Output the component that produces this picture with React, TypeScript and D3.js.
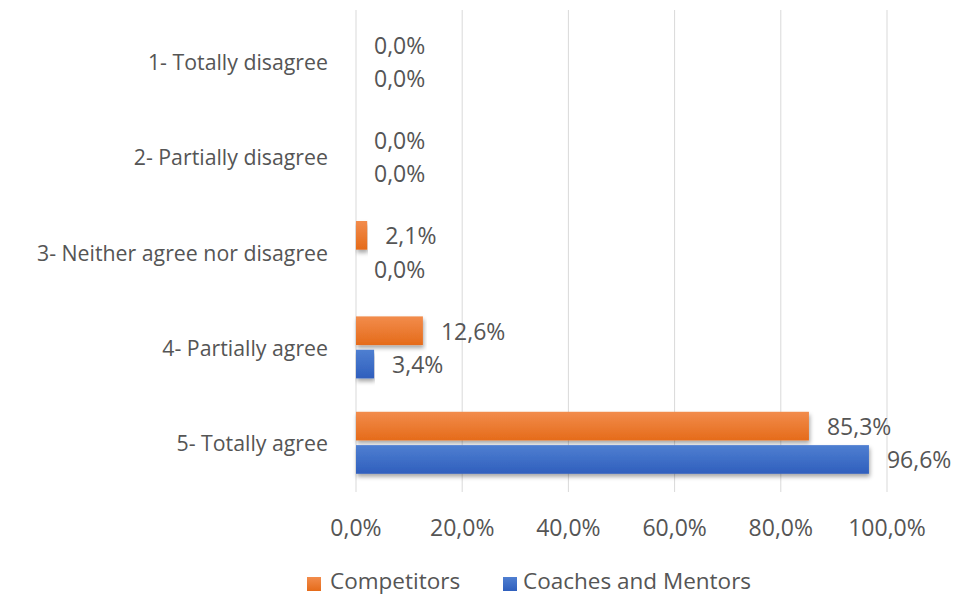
import React from "react"
import * as d3 from "d3"

const categories = [
  "1- Totally disagree",
  "2- Partially disagree",
  "3- Neither agree nor disagree",
  "4- Partially agree",
  "5- Totally agree",
]
const seriesNames = ["Competitors", "Coaches and Mentors"]
const competitors = [0.0, 0.0, 0.021, 0.126, 0.853]
const coaches = [0.0, 0.0, 0.0, 0.034, 0.966]
const xTicks = [0, 0.2, 0.4, 0.6, 0.8, 1.0]

const W = 958
const H = 597
const FONT = "'Open Sans', 'Noto Sans', sans-serif"
const TEXT = "#555555"

const fmt = (v: number) => (v * 100).toFixed(1).replace(".", ",") + "%"

const colors: Record<string, [string, string]> = {
  Competitors: ["#f28c4c", "#e56b1a"],
  "Coaches and Mentors": ["#4f7fd1", "#2f5fbd"],
}

export default function App() {
  const x = d3.scaleLinear().domain([0, 1]).range([356, 887])
  const y = d3
    .scaleBand<string>()
    .domain(categories)
    .range([14, 490])
    .paddingInner(0.35)
    .paddingOuter(0.17)
  const sub = d3
    .scaleBand<string>()
    .domain(seriesNames)
    .range([0, y.bandwidth()])
    .paddingInner(0.14)

  const rows = categories.map((c, i) => ({
    cat: c,
    values: [competitors[i], coaches[i]],
  }))

  const legend = [
    { name: seriesNames[0], sx: 307, tx: 330 },
    { name: seriesNames[1], sx: 503, tx: 523 },
  ]

  return (
    <svg
      width={W}
      height={H}
      style={{ position: "absolute", left: 0, top: 0, background: "#fff" }}
      fontFamily={FONT}
    >
      <defs>
        {seriesNames.map((s, i) => (
          <linearGradient key={s} id={`g${i}`} x1="0" y1="0" x2="0" y2="1">
            <stop offset="0%" stopColor={colors[s][0]} />
            <stop offset="100%" stopColor={colors[s][1]} />
          </linearGradient>
        ))}
        <filter id="shadow" x="-5%" y="-20%" width="110%" height="160%">
          <feDropShadow dx="1" dy="3" stdDeviation="2" floodColor="#000" floodOpacity="0.35" />
        </filter>
      </defs>

      {/* gridlines */}
      {xTicks.map((t) => (
        <line
          key={t}
          x1={x(t)}
          x2={x(t)}
          y1={10}
          y2={492}
          stroke="#d9d9d9"
          strokeWidth={1}
        />
      ))}

      {/* category labels */}
      {categories.map((c) => (
        <text
          key={c}
          x={328}
          y={(y(c) ?? 0) + y.bandwidth() / 2}
          textAnchor="end"
          dominantBaseline="central"
          fontSize={21.3}
          fill={TEXT}
        >
          {c}
        </text>
      ))}

      {/* bars */}
      {rows.map((r) => (
        <g key={r.cat} transform={`translate(0,${y(r.cat)})`}>
          {seriesNames.map((s, i) => {
            const v = r.values[i]
            const by = sub(s) ?? 0
            const bw = x(v) - x(0)
            return (
              <g key={s}>
                {bw > 0 && (
                  <rect
                    x={x(0)}
                    y={by}
                    width={bw}
                    height={sub.bandwidth()}
                    fill={`url(#g${i})`}
                    filter="url(#shadow)"
                  />
                )}
                <text
                  x={x(v) + 18}
                  y={by + sub.bandwidth() / 2}
                  dominantBaseline="central"
                  fontSize={23}
                  fill={TEXT}
                >
                  {fmt(v)}
                </text>
              </g>
            )
          })}
        </g>
      ))}

      {/* x tick labels */}
      {xTicks.map((t) => (
        <text
          key={t}
          x={x(t)}
          y={527}
          textAnchor="middle"
          dominantBaseline="central"
          fontSize={23}
          fill={TEXT}
        >
          {fmt(t)}
        </text>
      ))}

      {/* legend */}
      {legend.map((l, i) => (
        <g key={l.name}>
          <rect x={l.sx} y={577} width={14} height={14} fill={`url(#g${i})`} />
          <text x={l.tx} y={589} fontSize={22.5} fill={TEXT}>
            {l.name}
          </text>
        </g>
      ))}
    </svg>
  )
}
